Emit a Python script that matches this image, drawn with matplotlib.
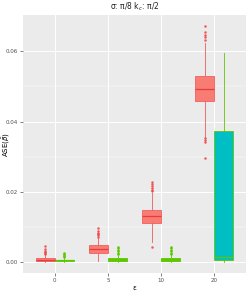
import matplotlib
matplotlib.use("Agg")
import matplotlib.pyplot as plt
import numpy as np

# data
categories = ["0", "5", "10", "20"]

red_q1 = [0.0003, 0.0026, 0.0110, 0.0458]
red_med = [0.0005, 0.0036, 0.0130, 0.0492]
red_q3 = [0.0010, 0.0048, 0.0147, 0.0530]
red_lo = [0.0000, 0.0003, 0.0055, 0.0357]
red_hi = [0.0019, 0.0069, 0.0195, 0.0623]
red_fliers = [
    [0.0022, 0.0026, 0.0029, 0.0032, 0.0036, 0.0045],
    [0.0071, 0.0075, 0.0079, 0.0083, 0.0088, 0.0095],
    [0.0041, 0.0201, 0.0206, 0.0211, 0.0217, 0.0222, 0.0228],
    [0.0297, 0.0341, 0.0346, 0.0352, 0.0633, 0.0640, 0.0648, 0.0656, 0.0672],
]

grn_q1 = [0.0002, 0.0003, 0.0003, 0.0005]
grn_med = [0.0004, 0.0006, 0.0006, 0.0014]
grn_q3 = [0.0006, 0.0011, 0.0011, 0.0374]
grn_lo = [0.0000, 0.0000, 0.0000, 0.0000]
grn_hi = [0.0011, 0.0020, 0.0020, 0.0595]
grn_fliers = [
    [0.0013, 0.0016, 0.0019, 0.0022, 0.0025],
    [0.0022, 0.0026, 0.0030, 0.0034, 0.0038, 0.0041],
    [0.0022, 0.0026, 0.0030, 0.0034, 0.0038, 0.0043],
    [],
]
grn_fill = ["#5CC800", "#5CC800", "#5CC800", "#00BFC4"]

RED = "#F8766D"
RED_EDGE = "#F25A5A"
GRN = "#5CC800"

fig = plt.figure(figsize=(2.49, 2.91), dpi=100)
ax = fig.add_axes([0.0924, 0.0608, 0.8956, 0.8877])
ax.set_facecolor("#EBEBEB")

x = np.arange(len(categories))
off = 0.18
w = 0.35


def stats(q1, med, q3, lo, hi, fl):
    return [dict(q1=a, med=b, q3=c, whislo=d, whishi=e, fliers=f)
            for a, b, c, d, e, f in zip(q1, med, q3, lo, hi, fl)]


r = ax.bxp(stats(red_q1, red_med, red_q3, red_lo, red_hi, red_fliers),
           positions=x - off, widths=w, patch_artist=True, showcaps=False,
           boxprops=dict(facecolor=RED, edgecolor=RED_EDGE, linewidth=0.6, alpha=0.95),
           medianprops=dict(color="#E83C3C", linewidth=0.9),
           whiskerprops=dict(color=RED_EDGE, linewidth=0.6),
           flierprops=dict(marker="o", markersize=1.8, markerfacecolor="#F04848",
                           markeredgecolor="none", alpha=0.9))

g = ax.bxp(stats(grn_q1, grn_med, grn_q3, grn_lo, grn_hi, grn_fliers),
           positions=x + off, widths=w, patch_artist=True, showcaps=False,
           boxprops=dict(edgecolor=GRN, linewidth=0.6),
           medianprops=dict(color=GRN, linewidth=0.9),
           whiskerprops=dict(color=GRN, linewidth=0.6),
           flierprops=dict(marker="o", markersize=1.8, markerfacecolor=GRN,
                           markeredgecolor="none"))
for patch, fc in zip(g["boxes"], grn_fill):
    patch.set_facecolor(fc)

ax.set_xlim(-0.6, 3.6)
ax.set_ylim(-0.0033, 0.0704)
ax.set_xticks(x)
ax.set_xticklabels(categories)
ax.set_yticks([0.0, 0.02, 0.04, 0.06])
ax.set_yticklabels(["0.00", "0.02", "0.04", "0.06"])
ax.set_yticks([0.01, 0.03, 0.05], minor=True)
ax.tick_params(axis="both", which="major", labelsize=4, colors="#4D4D4D",
               length=2, width=0.5, pad=1.5)
ax.tick_params(axis="y", which="minor", length=0)
ax.grid(True, which="major", color="white", linewidth=0.7)
ax.grid(True, which="minor", axis="y", color="white", linewidth=0.35)
ax.set_axisbelow(True)
for s in ax.spines.values():
    s.set_visible(False)

ax.set_xlabel("ε", fontsize=5, labelpad=1)
ax.set_ylabel(r"ASE($\hat{\beta}$)", fontsize=5)
ax.yaxis.set_label_coords(-0.05, 0.5)
ax.set_title(r"σ: π/8 k$_c$: π/2", fontsize=5.5, pad=4, color="#222222")

fig.savefig("out.png", dpi=100)
